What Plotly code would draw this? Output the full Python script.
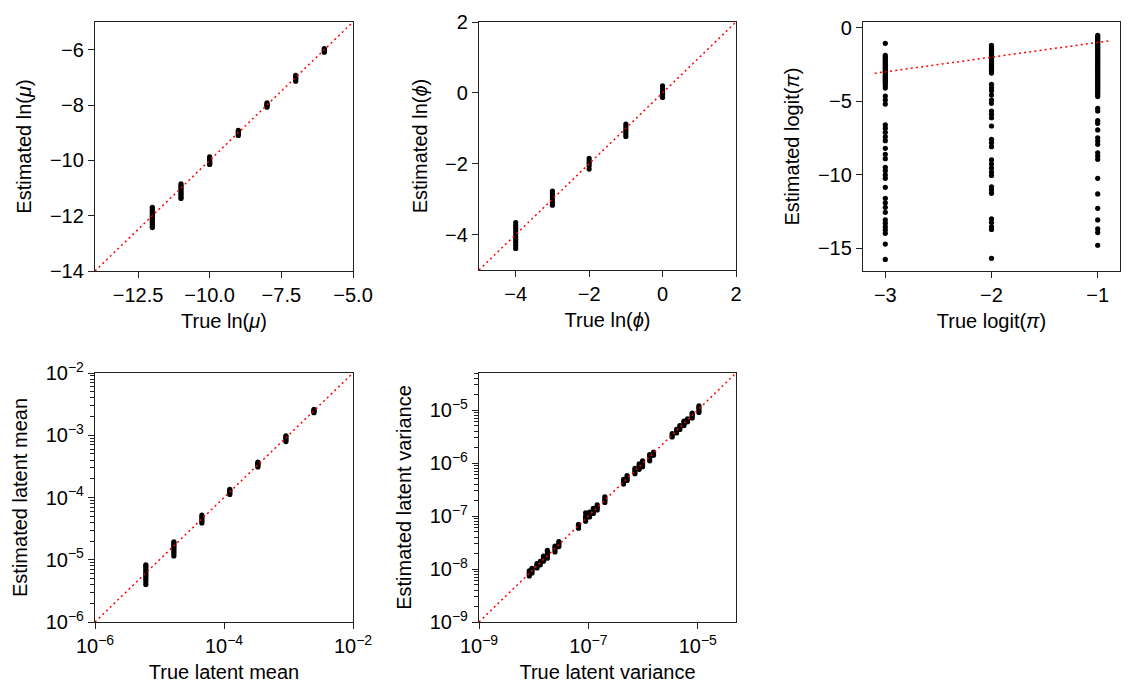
import plotly.graph_objects as go

# ---------------- data ----------------
# Panel 1: ln(mu)
lnmu_true_levels = [-12, -11, -10, -9, -8, -7, -6]
lnmu_est = [
    [-11.70, -11.77, -11.84, -11.90, -11.96, -12.02, -12.08, -12.14, -12.20, -12.26, -12.32, -12.38, -12.43],
    [-10.85, -10.91, -10.97, -11.03, -11.09, -11.15, -11.21, -11.27, -11.33, -11.38],
    [-9.87, -9.92, -9.97, -10.02, -10.07, -10.12, -10.15],
    [-8.92, -8.96, -9.00, -9.05, -9.10],
    [-7.92, -7.96, -8.00, -8.04, -8.08],
    [-6.93, -6.98, -7.03, -7.08, -7.14],
    [-5.96, -6.00, -6.05, -6.09],
]

# Panel 2: ln(phi)
lnphi_true_levels = [-4, -3, -2, -1, 0]
lnphi_est = [
    [-3.66, -3.74, -3.82, -3.90, -3.98, -4.06, -4.14, -4.22, -4.30, -4.39],
    [-2.77, -2.85, -2.93, -3.01, -3.09, -3.17],
    [-1.85, -1.92, -1.99, -2.06, -2.15],
    [-0.88, -0.95, -1.02, -1.09, -1.16, -1.23],
    [0.20, 0.12, 0.04, -0.04, -0.13],
]

# Panel 3: logit(pi)
logit_true_levels = [-3, -2, -1]
logit_est = [
    [-1.06, -1.88, -1.98, -2.08, -2.18, -2.28, -2.38, -2.48, -2.58, -2.68, -2.78, -2.88, -2.98,
     -3.08, -3.18, -3.28, -3.38, -3.48, -3.58, -3.68, -3.80, -3.95, -4.10, -4.64, -4.91, -5.19,
     -6.61, -6.84, -7.11, -7.41, -7.68, -8.20, -8.61, -8.90, -9.49, -9.72, -10.01, -10.24,
     -10.85, -11.60, -11.90, -12.21, -12.55, -13.07, -13.30, -13.53, -13.75, -13.98, -14.71, -15.75],
    [-1.20, -1.30, -1.40, -1.50, -1.60, -1.70, -1.80, -1.90, -2.00, -2.10, -2.20, -2.30, -2.40,
     -2.50, -2.60, -2.70, -2.80, -2.90, -3.00, -3.08, -3.85, -4.08, -4.28, -4.58, -4.92, -5.14,
     -5.66, -5.89, -6.12, -6.68, -7.59, -7.82, -8.09, -8.99, -9.27, -9.54, -9.81, -10.04,
     -10.81, -11.03, -11.26, -13.00, -13.25, -13.53, -13.71, -15.68],
    [-0.52, -0.62, -0.72, -0.82, -0.92, -1.02, -1.12, -1.22, -1.32, -1.42, -1.52, -1.62, -1.72,
     -1.82, -1.92, -2.02, -2.12, -2.22, -2.32, -2.42, -2.52, -2.62, -2.72, -2.82, -2.92, -3.02,
     -3.12, -3.22, -3.32, -3.42, -3.52, -3.62, -3.72, -3.82, -3.92, -4.02, -4.12, -4.22, -4.32,
     -4.42, -4.52, -4.67, -5.48, -5.66, -6.32, -6.50, -6.95, -7.48, -7.70, -7.93, -8.50, -8.72,
     -8.95, -10.24, -11.30, -12.28, -13.07, -13.68, -13.93, -14.79],
]

# Panel 4: latent mean
mean_true_levels = [6.14e-6, 1.67e-5, 4.54e-5, 1.23e-4, 3.35e-4, 9.12e-4, 2.48e-3]
mean_est = [
    [4.0e-6, 4.4e-6, 4.8e-6, 5.2e-6, 5.6e-6, 6.0e-6, 6.4e-6, 6.9e-6, 7.4e-6, 7.9e-6, 8.3e-6],
    [1.15e-5, 1.25e-5, 1.35e-5, 1.45e-5, 1.55e-5, 1.65e-5, 1.75e-5, 1.85e-5, 1.94e-5],
    [3.9e-5, 4.2e-5, 4.5e-5, 4.8e-5, 5.2e-5],
    [1.12e-4, 1.18e-4, 1.24e-4, 1.30e-4, 1.35e-4],
    [3.10e-4, 3.25e-4, 3.40e-4, 3.55e-4, 3.70e-4],
    [7.9e-4, 8.4e-4, 8.9e-4, 9.4e-4, 9.8e-4],
    [2.3e-3, 2.4e-3, 2.5e-3, 2.6e-3],
]

# Panel 5: latent variance
var_true_levels = [8.3e-9, 9.3e-9, 1.15e-8, 1.32e-8, 1.51e-8, 1.78e-8, 2.45e-8, 2.88e-8,
                   6.6e-8, 8.9e-8, 1.05e-7, 1.23e-7, 1.45e-7, 2.0e-7, 4.4e-7, 5.1e-7,
                   7.1e-7, 8.5e-7, 9.8e-7, 1.32e-6, 1.55e-6, 3.4e-6, 4.1e-6, 4.7e-6,
                   5.6e-6, 6.5e-6, 7.9e-6, 1.05e-5]
var_est = [
    [7.4e-9, 8.0e-9, 8.6e-9, 9.2e-9],
    [8.4e-9, 9.0e-9, 9.7e-9, 1.03e-8],
    [1.05e-8, 1.12e-8, 1.20e-8, 1.27e-8],
    [1.20e-8, 1.30e-8, 1.40e-8],
    [1.40e-8, 1.50e-8, 1.62e-8, 1.75e-8],
    [1.60e-8, 1.75e-8, 1.90e-8, 2.10e-8, 2.25e-8],
    [2.10e-8, 2.30e-8, 2.50e-8, 2.70e-8],
    [2.65e-8, 2.85e-8, 3.05e-8, 3.30e-8],
    [5.9e-8, 6.3e-8, 6.7e-8, 7.0e-8],
    [8.0e-8, 8.7e-8, 9.3e-8, 1.0e-7, 1.15e-7],
    [9.6e-8, 1.03e-7, 1.10e-7, 1.18e-7],
    [1.12e-7, 1.20e-7, 1.30e-7, 1.40e-7],
    [1.30e-7, 1.42e-7, 1.52e-7, 1.62e-7],
    [1.80e-7, 1.95e-7, 2.10e-7, 2.30e-7],
    [4.0e-7, 4.3e-7, 4.6e-7, 4.9e-7],
    [4.7e-7, 5.0e-7, 5.4e-7, 5.8e-7],
    [6.3e-7, 6.9e-7, 7.4e-7, 7.9e-7],
    [7.6e-7, 8.3e-7, 8.9e-7, 9.6e-7],
    [8.5e-7, 9.4e-7, 1.02e-6, 1.10e-6],
    [1.10e-6, 1.22e-6, 1.35e-6, 1.45e-6],
    [1.40e-6, 1.50e-6, 1.60e-6],
    [3.1e-6, 3.3e-6, 3.6e-6],
    [3.7e-6, 4.0e-6, 4.3e-6],
    [4.3e-6, 4.7e-6, 5.1e-6],
    [5.1e-6, 5.5e-6, 5.9e-6, 6.2e-6],
    [6.0e-6, 6.4e-6, 6.8e-6],
    [7.1e-6, 7.7e-6, 8.3e-6, 8.8e-6],
    [9.0e-6, 9.7e-6, 1.05e-5, 1.13e-5, 1.20e-5],
]

# identity lines (endpoints of y = x)
line1 = [-14, -5]
line2 = [-5, 2]
line3 = [-3.1, -0.9]
line4 = [1e-6, 1e-2]
line5 = [1e-9, 5e-5]


def expand(levels, groups):
    xs, ys = [], []
    for lv, g in zip(levels, groups):
        xs += [lv] * len(g)
        ys += list(g)
    return xs, ys


# ---------------- styling ----------------
FONT = "Liberation Sans, Arial, Helvetica, sans-serif"
FS = 20
LC = "#222222"
OFF = 8                      # browser default body margin
W, H = 1134 - 2 * OFF, 700 - 2 * OFF


def dom_x(a, b):
    return [(a - OFF) / W, (b - OFF) / W]


def dom_y(top, bot):
    return [1 - (bot - OFF) / H, 1 - (top - OFF) / H]


panels = [
    dict(x=dom_x(95, 353), y=dom_y(22, 271)),
    dict(x=dom_x(479, 736), y=dom_y(22, 270)),
    dict(x=dom_x(863, 1120), y=dom_y(22, 271)),
    dict(x=dom_x(95, 353), y=dom_y(373, 622)),
    dict(x=dom_x(479, 736), y=dom_y(373, 622)),
]

fig = go.Figure()
marker = dict(color="black", size=5.2, line=dict(width=0))
redline = dict(color="red", width=1.5, dash="2px,3.2px")

datasets = [
    expand(lnmu_true_levels, lnmu_est),
    expand(lnphi_true_levels, lnphi_est),
    expand(logit_true_levels, logit_est),
    expand(mean_true_levels, mean_est),
    expand(var_true_levels, var_est),
]
lines = [line1, line2, line3, line4, line5]

for i, ((xs, ys), ln) in enumerate(zip(datasets, lines)):
    ax = "" if i == 0 else str(i + 1)
    fig.add_trace(go.Scatter(x=xs, y=ys, mode="markers", marker=marker,
                             xaxis="x" + ax, yaxis="y" + ax, showlegend=False,
                             hoverinfo="skip"))
    fig.add_trace(go.Scatter(x=ln, y=ln, mode="lines", line=redline,
                             xaxis="x" + ax, yaxis="y" + ax, showlegend=False,
                             hoverinfo="skip"))


def neg(v, fmt):
    s = fmt.format(v)
    return s.replace("-", "\u2212")


def sup(e):
    return "10<sup>\u2212%d</sup>" % (-e)


def minor_vals(lo, hi):
    out = []
    for d in range(lo, hi + 1):
        for m in range(2, 10):
            out.append(m * 10.0 ** d)
    return out


base_axis = dict(
    showline=True, linecolor=LC, linewidth=1.3, mirror=True,
    ticks="outside", ticklen=6, tickwidth=1.3, tickcolor=LC,
    showgrid=False, zeroline=False, automargin=False,
    tickfont=dict(family=FONT, size=FS, color="black"),
)
title_font = dict(family=FONT, size=FS, color="black")

# panel 1
x1_t = [-12.5, -10, -7.5, -5]
y1_t = [-14, -12, -10, -8, -6]
# panel 2
x2_t = [-4, -2, 0, 2]
y2_t = [-4, -2, 0, 2]
# panel 3
x3_t = [-3, -2, -1]
y3_t = [-15, -10, -5, 0]

axes = {}
axes["xaxis"] = dict(base_axis, domain=panels[0]["x"], anchor="y", range=[-14, -5],
                     tickvals=x1_t, ticktext=[neg(v, "{:.1f}") for v in x1_t],
                     title=dict(text="True ln(<i>μ</i>)", font=title_font, standoff=8))
axes["yaxis"] = dict(base_axis, domain=panels[0]["y"], anchor="x", range=[-14, -5],
                     tickvals=y1_t, ticktext=[neg(v, "{:d}") for v in y1_t],
                     title=dict(text="Estimated ln(<i>μ</i>)", font=title_font, standoff=12))
axes["xaxis2"] = dict(base_axis, domain=panels[1]["x"], anchor="y2", range=[-5, 2],
                      tickvals=x2_t, ticktext=[neg(v, "{:d}") for v in x2_t],
                      title=dict(text="True ln(<i>ϕ</i>)", font=title_font, standoff=8))
axes["yaxis2"] = dict(base_axis, domain=panels[1]["y"], anchor="x2", range=[-5, 2],
                      tickvals=y2_t, ticktext=[neg(v, "{:d}") for v in y2_t],
                      title=dict(text="Estimated ln(<i>ϕ</i>)", font=title_font, standoff=12))
axes["xaxis3"] = dict(base_axis, domain=panels[2]["x"], anchor="y3", range=[-3.21, -0.79],
                      tickvals=x3_t, ticktext=[neg(v, "{:d}") for v in x3_t],
                      title=dict(text="True logit(<i>π</i>)", font=title_font, standoff=8))
axes["yaxis3"] = dict(base_axis, domain=panels[2]["y"], anchor="x3", range=[-16.54, 0.39],
                      tickvals=y3_t, ticktext=[neg(v, "{:d}") for v in y3_t],
                      title=dict(text="Estimated logit(<i>π</i>)", font=title_font, standoff=12))

minor_style = dict(ticks="outside", ticklen=3.5, tickwidth=1.0, tickcolor=LC, showgrid=False)

axes["xaxis4"] = dict(base_axis, domain=panels[3]["x"], anchor="y4", type="log", range=[-6, -2],
                      tickvals=[1e-6, 1e-4, 1e-2], ticktext=[sup(-6), sup(-4), sup(-2)],
                      title=dict(text="True latent mean", font=title_font, standoff=8))
axes["yaxis4"] = dict(base_axis, domain=panels[3]["y"], anchor="x4", type="log", range=[-6, -2],
                      tickvals=[1e-6, 1e-5, 1e-4, 1e-3, 1e-2],
                      ticktext=[sup(-6), sup(-5), sup(-4), sup(-3), sup(-2)],
                      minor=dict(minor_style, tickvals=minor_vals(-6, -3)),
                      title=dict(text="Estimated latent mean", font=title_font, standoff=12))
axes["xaxis5"] = dict(base_axis, domain=panels[4]["x"], anchor="y5", type="log",
                      range=[-9, -4.301],
                      tickvals=[1e-9, 1e-7, 1e-5], ticktext=[sup(-9), sup(-7), sup(-5)],
                      title=dict(text="True latent variance", font=title_font, standoff=8))
axes["yaxis5"] = dict(base_axis, domain=panels[4]["y"], anchor="x5", type="log",
                      range=[-9, -4.301],
                      tickvals=[1e-9, 1e-8, 1e-7, 1e-6, 1e-5],
                      ticktext=[sup(-9), sup(-8), sup(-7), sup(-6), sup(-5)],
                      minor=dict(minor_style, tickvals=[v for v in minor_vals(-9, -5) if v <= 5e-5]),
                      title=dict(text="Estimated latent variance", font=title_font, standoff=12))

fig.update_layout(
    width=W, height=H,
    margin=dict(l=0, r=0, t=0, b=0),
    paper_bgcolor="white", plot_bgcolor="white",
    font=dict(family=FONT, size=FS, color="black"),
    showlegend=False,
    **axes,
)

fig.write_html("out.html")
